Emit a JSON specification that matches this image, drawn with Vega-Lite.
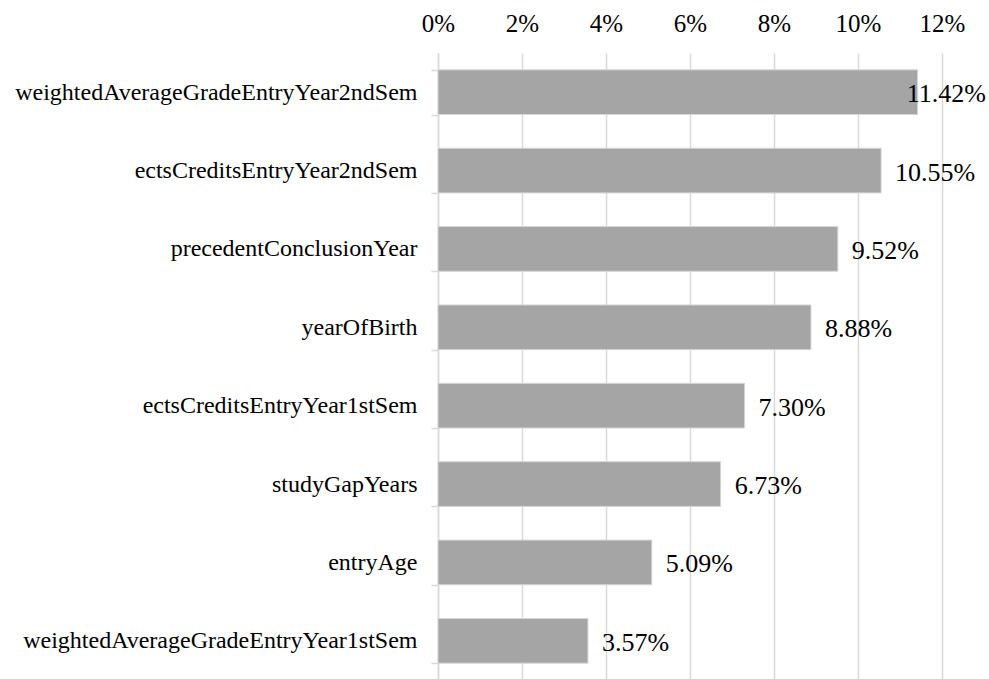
{
  "$schema": "https://vega.github.io/schema/vega-lite/v6.json",
  "autosize": "none",
  "width": 504,
  "height": 627,
  "padding": {"left": 438, "top": 53, "right": 47, "bottom": 0},
  "background": "white",
  "config": {
    "view": {"stroke": null},
    "font": "Liberation Serif"
  },
  "data": {
    "values": [
      {"feature": "weightedAverageGradeEntryYear2ndSem", "value": 0.1142},
      {"feature": "ectsCreditsEntryYear2ndSem", "value": 0.1055},
      {"feature": "precedentConclusionYear", "value": 0.0952},
      {"feature": "yearOfBirth", "value": 0.0888},
      {"feature": "ectsCreditsEntryYear1stSem", "value": 0.0730},
      {"feature": "studyGapYears", "value": 0.0673},
      {"feature": "entryAge", "value": 0.0509},
      {"feature": "weightedAverageGradeEntryYear1stSem", "value": 0.0357}
    ]
  },
  "encoding": {
    "y": {
      "field": "feature",
      "type": "nominal",
      "sort": ["weightedAverageGradeEntryYear2ndSem", "ectsCreditsEntryYear2ndSem", "precedentConclusionYear", "yearOfBirth", "ectsCreditsEntryYear1stSem", "studyGapYears", "entryAge", "weightedAverageGradeEntryYear1stSem"],
      "title": null,
      "scale": {"paddingInner": 0.43, "paddingOuter": 0.215},
      "axis": {
        "tickBand": "extent",
        "domainColor": "#d9d9d9",
        "domainWidth": 1.5,
        "tickColor": "#d9d9d9",
        "tickWidth": 1.5,
        "tickSize": 7,
        "labelPadding": 14,
        "labelFont": "Liberation Serif",
        "labelFontSize": 24,
        "labelColor": "#000000",
        "labelLimit": 600,
        "grid": false
      }
    },
    "x": {
      "field": "value",
      "type": "quantitative",
      "title": null,
      "scale": {"domain": [0, 0.12], "nice": false},
      "axis": {
        "orient": "top",
        "format": ".0%",
        "values": [0, 0.02, 0.04, 0.06, 0.08, 0.1, 0.12],
        "domain": false,
        "ticks": false,
        "grid": true,
        "gridColor": "#d9d9d9",
        "gridWidth": 1.5,
        "labelFlush": false,
        "labelFont": "Liberation Serif",
        "labelFontSize": 25,
        "labelColor": "#000000",
        "labelPadding": 17
      }
    }
  },
  "layer": [
    {
      "mark": {"type": "bar", "color": "#a5a5a5", "stroke": "#d6d6d6", "strokeWidth": 1}
    },
    {
      "transform": [{"filter": "datum.value < 0.11"}],
      "mark": {"type": "text", "align": "left", "baseline": "middle", "dx": 14, "dy": 2, "font": "Liberation Serif", "fontSize": 26, "color": "#000000"},
      "encoding": {"text": {"field": "value", "type": "quantitative", "format": ".2%"}}
    },
    {
      "transform": [{"filter": "datum.value >= 0.11"}],
      "mark": {"type": "text", "align": "left", "baseline": "middle", "dx": -11, "dy": 2, "font": "Liberation Serif", "fontSize": 26, "color": "#000000"},
      "encoding": {"text": {"field": "value", "type": "quantitative", "format": ".2%"}}
    }
  ]
}
